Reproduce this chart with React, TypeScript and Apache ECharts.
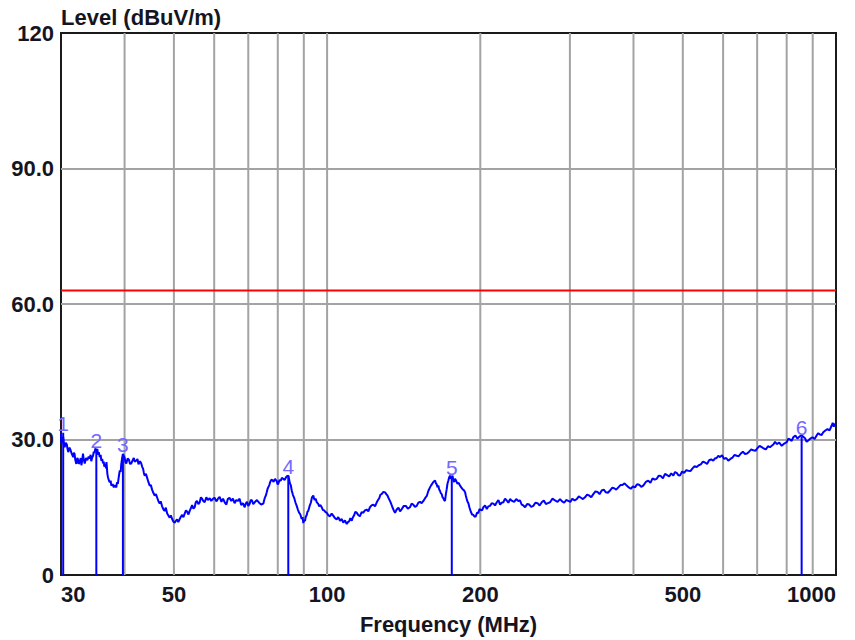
import React, { useEffect, useRef } from "react";
import * as echarts from "echarts";

// ---- data : [frequency MHz, level dBuV/m] ----
const trace: [number, number][] = [
  [30.0, 31.5], [30.05, 29.0], [30.1, 29.4], [30.2, 30.2], [30.3, 30.6], [30.4, 29.1], [30.5, 28.3], [30.65, 29.3],
  [30.8, 28.9], [30.9, 27.9], [31.0, 27.2], [31.15, 28.2], [31.3, 27.8], [31.5, 26.8], [31.7, 26.1], [31.8, 27.1],
  [31.9, 26.8], [32.0, 25.5], [32.15, 24.6], [32.3, 25.9], [32.4, 25.6], [32.5, 24.6], [32.65, 25.0], [32.8, 25.9],
  [32.9, 24.3], [33.0, 25.2], [33.14, 26.9], [33.25, 25.6], [33.4, 24.7], [33.6, 25.9], [33.8, 25.4], [34.0, 26.2],
  [34.16, 25.8], [34.3, 26.6], [34.4, 25.2], [34.55, 26.0], [34.68, 26.4], [34.8, 27.3], [34.9, 27.0], [35.05, 28.0],
  [35.2, 27.6], [35.35, 27.9], [35.5, 26.6], [35.6, 27.2], [35.75, 26.1], [35.9, 26.6], [36.0, 25.3], [36.15, 25.7],
  [36.28, 24.7], [36.4, 25.1], [36.5, 24.0], [36.65, 24.6], [36.78, 23.6], [36.85, 25.0], [36.9, 24.2], [37.0, 22.4],
  [37.11, 21.6], [37.25, 21.0], [37.4, 20.5], [37.55, 20.9], [37.67, 19.8], [37.9, 20.1], [38.1, 19.4], [38.3, 19.9],
  [38.53, 19.4], [38.65, 20.5], [38.8, 20.2], [38.95, 21.6], [39.13, 23.1], [39.3, 22.8], [39.4, 24.5], [39.55, 25.8],
  [39.71, 26.8], [39.85, 26.4], [40.0, 26.0], [40.15, 25.0], [40.31, 24.7], [40.55, 25.8], [40.8, 25.5], [41.0, 24.6],
  [41.23, 24.7], [41.45, 25.3], [41.7, 25.9], [41.9, 25.1], [42.18, 25.3], [42.4, 25.7], [42.6, 24.5], [42.9, 25.2],
  [43.14, 24.7], [43.3, 24.0], [43.5, 23.5], [43.65, 22.6], [43.81, 22.0], [44.05, 22.4], [44.3, 21.5], [44.55, 20.6],
  [44.81, 19.8], [45.05, 19.9], [45.3, 18.9], [45.55, 18.2], [45.84, 17.6], [46.1, 17.9], [46.4, 17.0], [46.6, 16.4],
  [46.89, 15.8], [47.1, 16.3], [47.4, 15.2], [47.7, 14.5], [47.96, 14.2], [48.2, 14.9], [48.5, 13.6], [48.8, 13.1],
  [49.06, 12.7], [49.3, 13.2], [49.6, 12.4], [49.9, 11.8], [50.18, 11.6], [50.45, 12.0], [50.7, 12.3], [51.0, 11.7],
  [51.33, 12.4], [51.6, 12.9], [51.9, 13.3], [52.2, 12.8], [52.5, 13.6], [52.8, 14.3], [53.1, 14.0], [53.4, 13.4],
  [53.71, 14.2], [54.0, 14.8], [54.3, 15.5], [54.6, 14.7], [54.93, 15.0], [55.2, 16.1], [55.5, 16.4], [55.85, 15.7],
  [56.19, 16.1], [56.5, 17.2], [56.8, 16.9], [57.1, 16.4], [57.47, 16.1], [57.9, 17.2], [58.3, 16.6], [58.8, 17.0],
  [59.22, 16.4], [59.7, 16.9], [60.1, 17.1], [60.6, 16.3], [61.04, 16.9], [61.5, 17.3], [62.0, 16.2], [62.45, 16.9],
  [62.92, 16.1], [63.4, 15.6], [63.8, 16.8], [64.3, 17.1], [64.83, 16.4], [65.3, 16.9], [65.8, 15.9], [66.3, 16.6],
  [66.83, 16.4], [67.3, 16.9], [67.8, 15.5], [68.3, 15.9], [68.88, 15.0], [69.2, 15.8], [69.6, 16.2], [70.0, 15.3],
  [70.46, 15.8], [70.8, 16.6], [71.2, 16.5], [71.6, 15.7], [72.07, 16.1], [72.8, 16.6], [73.5, 16.0], [74.2, 15.6],
  [74.93, 15.8], [75.2, 16.5], [75.5, 17.2], [75.8, 17.6], [76.1, 18.3], [76.4, 19.1], [76.7, 19.5], [77.0, 19.9],
  [77.24, 20.5], [77.7, 21.1], [78.1, 21.0], [78.5, 20.6], [79.01, 21.3], [79.3, 21.0], [79.6, 20.8], [79.9, 20.1],
  [80.2, 20.2], [80.6, 21.0], [81.1, 20.9], [81.5, 21.5], [82.03, 21.3], [82.5, 21.0], [83.0, 21.6], [83.4, 21.9],
  [83.91, 22.0], [84.2, 21.2], [84.5, 20.3], [84.85, 19.9], [85.21, 18.7], [85.7, 17.7], [86.2, 17.0], [86.7, 16.0],
  [87.16, 15.3], [87.6, 14.5], [88.1, 13.8], [88.6, 13.4], [89.15, 12.4], [89.5, 12.8], [89.8, 11.5], [90.1, 12.1],
  [90.49, 12.0], [90.8, 12.9], [91.2, 13.3], [91.5, 14.0], [91.85, 14.2], [92.4, 15.3], [92.9, 16.0], [93.4, 17.2],
  [93.95, 17.6], [94.3, 16.9], [94.6, 16.6], [95.0, 16.9], [95.41, 16.1], [96.0, 15.8], [96.5, 15.2], [97.0, 15.5],
  [97.6, 15.0], [98.1, 14.4], [98.7, 14.3], [99.3, 13.9], [99.83, 13.8], [100.6, 13.2], [101.3, 13.0], [102.1, 13.6],
  [102.9, 13.1], [103.6, 12.6], [104.4, 12.3], [105.2, 12.8], [106.0, 12.0], [106.8, 12.4], [107.6, 11.6], [108.4, 12.1],
  [109.3, 11.3], [109.9, 11.7], [110.5, 11.9], [111.1, 12.6], [111.8, 12.0], [112.4, 12.8], [113.0, 13.2], [113.6, 14.0],
  [114.3, 13.8], [115.1, 13.3], [116.0, 13.0], [116.9, 13.9], [117.8, 13.8], [118.7, 14.3], [119.6, 14.5], [120.5, 14.1],
  [121.4, 15.0], [122.3, 15.4], [123.3, 15.6], [124.2, 15.2], [125.2, 16.1], [125.9, 16.6], [126.6, 17.0], [127.3, 17.8],
  [128.0, 17.9], [129.0, 18.4], [130.0, 18.3], [130.7, 17.9], [131.4, 17.6], [132.1, 17.0], [132.9, 16.4], [133.6, 15.8],
  [134.4, 15.0], [135.2, 14.3], [136.0, 13.8], [137.0, 14.5], [138.1, 14.9], [139.1, 14.1], [140.2, 14.6], [141.5, 15.3],
  [142.8, 15.3], [144.1, 14.7], [145.5, 15.0], [146.6, 15.8], [147.7, 15.6], [148.8, 15.1], [150.0, 15.3], [151.1, 16.0],
  [152.3, 16.2], [153.4, 15.9], [154.6, 16.4], [155.8, 17.0], [157.0, 17.5], [158.1, 18.6], [159.3, 19.4], [160.2, 19.9],
  [161.1, 20.3], [162.0, 20.7], [163.0, 20.9], [163.6, 20.3], [164.2, 20.1], [164.8, 19.4], [165.4, 19.8], [166.0, 19.0],
  [166.7, 18.6], [167.3, 18.1], [168.0, 17.9], [168.6, 17.2], [169.2, 17.0], [169.8, 16.6], [170.5, 16.4], [171.1, 17.8],
  [171.8, 19.0], [172.4, 20.2], [173.1, 20.9], [173.7, 21.6], [174.4, 22.0], [175.1, 21.3], [175.8, 21.6], [176.4, 22.0],
  [177.0, 21.0], [177.7, 20.6], [178.4, 21.3], [179.4, 20.8], [180.4, 20.2], [181.4, 20.4], [182.5, 19.8], [183.5, 19.4],
  [184.6, 19.0], [185.6, 18.8], [186.7, 18.3], [187.4, 17.5], [188.1, 16.8], [188.8, 16.2], [189.5, 15.9], [190.5, 14.9],
  [191.6, 14.0], [192.7, 13.4], [193.8, 13.3], [194.9, 12.9], [196.0, 13.0], [197.1, 13.8], [198.2, 13.7], [199.3, 14.6],
  [200.5, 14.4], [201.6, 14.3], [202.8, 15.0], [204.4, 15.4], [206.0, 14.6], [207.5, 15.2], [209.0, 15.3], [210.6, 15.9],
  [212.2, 15.8], [213.8, 15.4], [215.5, 16.1], [217.1, 16.6], [218.7, 15.6], [220.3, 16.0], [222.0, 16.1], [223.7, 16.9],
  [225.4, 16.5], [227.1, 16.0], [228.8, 16.8], [231.0, 16.4], [233.1, 16.2], [235.3, 16.8], [237.5, 16.4], [239.3, 16.5],
  [241.2, 15.6], [243.0, 15.4], [244.9, 15.0], [247.2, 15.7], [249.5, 15.6], [251.8, 15.1], [254.2, 15.3], [256.6, 16.0],
  [259.1, 15.9], [261.6, 15.4], [264.1, 16.1], [266.6, 16.5], [269.1, 15.7], [271.6, 15.9], [274.2, 16.1], [277.3, 16.9],
  [280.5, 16.5], [283.7, 16.2], [286.9, 16.8], [289.6, 16.3], [292.3, 16.0], [295.0, 16.6], [297.8, 16.4], [300.6, 16.2],
  [303.5, 16.9], [306.4, 16.5], [309.4, 16.8], [312.3, 17.4], [315.3, 17.1], [318.2, 16.8], [321.2, 17.2], [324.2, 17.8],
  [327.3, 17.6], [330.4, 17.2], [333.5, 17.9], [336.7, 18.5], [339.9, 18.4], [343.1, 17.9], [346.4, 18.7], [349.7, 18.9],
  [353.0, 18.3], [356.3, 18.2], [359.7, 18.7], [363.1, 19.3], [366.5, 19.2], [370.0, 18.9], [373.5, 19.4], [377.0, 19.9],
  [380.6, 19.9], [384.2, 20.3], [387.9, 19.8], [391.5, 19.4], [395.2, 19.1], [398.9, 19.6], [402.7, 19.4], [406.5, 20.1],
  [410.4, 20.0], [414.2, 19.5], [418.1, 19.8], [422.9, 20.6], [427.7, 20.9], [431.9, 20.4], [436.0, 21.4], [440.1, 21.1],
  [444.3, 21.3], [448.5, 22.0], [452.7, 21.9], [457.0, 21.4], [461.3, 22.4], [465.7, 22.1], [470.1, 21.8], [474.5, 22.5],
  [479.0, 22.0], [482.6, 22.8], [486.3, 22.6], [490.0, 22.1], [493.7, 22.0], [498.4, 22.9], [503.1, 22.6], [507.8, 23.2],
  [512.6, 23.1], [517.5, 23.0], [522.5, 23.6], [527.5, 24.1], [532.5, 23.9], [537.5, 24.3], [542.5, 24.5], [547.6, 25.1],
  [552.8, 24.9], [558.0, 24.6], [563.3, 25.4], [568.6, 25.6], [573.9, 25.3], [578.3, 25.8], [582.7, 25.9], [587.1, 26.4],
  [591.6, 26.1], [597.2, 26.5], [602.8, 25.7], [608.5, 25.9], [614.2, 25.3], [620.1, 25.7], [626.0, 26.0], [632.0, 26.6],
  [638.0, 26.4], [644.0, 26.3], [650.1, 26.9], [656.2, 27.3], [662.4, 26.8], [668.7, 26.9], [675.0, 27.3], [681.4, 27.8],
  [687.8, 27.6], [694.4, 27.5], [701.0, 28.1], [707.7, 28.6], [714.5, 28.3], [721.3, 28.0], [728.1, 27.8], [735.0, 28.5],
  [741.8, 28.3], [747.5, 28.6], [753.2, 28.9], [759.0, 29.5], [764.7, 29.0], [773.5, 29.3], [782.3, 28.6], [791.2, 29.1],
  [800.1, 29.4], [806.1, 30.2], [812.1, 30.0], [818.2, 29.7], [824.3, 30.5], [832.2, 30.9], [840.1, 30.2], [848.1, 30.7],
  [856.2, 30.9], [862.6, 30.6], [869.0, 30.3], [875.5, 29.5], [882.1, 29.8], [890.5, 30.2], [899.0, 30.5], [907.6, 30.1],
  [916.2, 30.9], [923.1, 31.4], [930.0, 31.1], [937.0, 31.0], [944.0, 31.6], [953.0, 32.0], [962.1, 32.3], [971.3, 32.0],
  [980.6, 33.1], [985.3, 33.7], [990.0, 32.8], [994.0, 33.6],
];

const markerLabels = ["1", "2", "3", "4", "5", "6"];
const markerFreqMHz = [30.3, 35.2, 39.7, 83.9, 175.8, 856.0];
const markerLevelDb = [31.5, 27.6, 26.8, 22.0, 21.6, 30.6];

const limitLevelDb = 63;
const limitFreqMHz = [30, 1000];

const gridFreqMHz = [40, 50, 60, 70, 80, 90, 100, 200, 300, 400, 500, 600, 700, 800, 900];
const xTickLabelsMHz = [30, 50, 100, 200, 500, 1000];
const yMin = 0;
const yMax = 120;
const yStep = 30;

// ---- chart ----
const L = (f: number) => Math.log10(f);
const FONT = '"Liberation Sans", Arial, Helvetica, sans-serif';
const TEXT_COLOR = "#15151f";
const GRID_COLOR = "#a3a3a3";

export default function App() {
  const ref = useRef<HTMLDivElement>(null);

  useEffect(() => {
    if (!ref.current) return;
    const chart = echarts.init(ref.current, undefined, { renderer: "svg" });

    const option: any = {
      animation: false,
      grid: {
        left: 61,
        top: 33,
        right: 19,
        bottom: 65,
        show: true,
        borderColor: "#1a1a1a",
        borderWidth: 2,
        backgroundColor: "#ffffff",
      },
      xAxis: {
        type: "value",
        min: L(30),
        max: L(1000),
        axisLine: { show: false },
        axisTick: { show: false },
        splitLine: { show: false },
        axisLabel: {
          customValues: xTickLabelsMHz.map(L),
          formatter: (v: number) => String(Math.round(Math.pow(10, v))),
          fontFamily: FONT,
          fontSize: 22,
          fontWeight: "bold",
          color: TEXT_COLOR,
          margin: 8,
          alignMinLabel: "left",
          alignMaxLabel: "right",
          showMinLabel: true,
          showMaxLabel: true,
          hideOverlap: false,
        },
        name: "Frequency (MHz)",
        nameLocation: "middle",
        nameGap: 38,
        nameTextStyle: {
          fontFamily: FONT,
          fontSize: 22,
          fontWeight: "bold",
          color: TEXT_COLOR,
        },
      },
      yAxis: {
        type: "value",
        min: yMin,
        max: yMax,
        interval: yStep,
        axisLine: { show: false },
        axisTick: { show: false },
        splitLine: {
          show: true,
          showMinLine: false,
          showMaxLine: false,
          lineStyle: { color: GRID_COLOR, width: 2 },
        },
        axisLabel: {
          formatter: (v: number) => (v === yMin || v === yMax ? String(v) : v.toFixed(1)),
          fontFamily: FONT,
          fontSize: 22,
          fontWeight: "bold",
          color: TEXT_COLOR,
          margin: 7,
        },
        name: "Level (dBuV/m)",
        nameLocation: "end",
        nameGap: 5,
        nameTextStyle: {
          fontFamily: FONT,
          fontSize: 22,
          fontWeight: "bold",
          color: TEXT_COLOR,
          align: "left",
          verticalAlign: "bottom",
        },
      },
      series: [
        {
          type: "custom",
          name: "grid",
          silent: true,
          z: 1,
          data: gridFreqMHz.map((f) => [L(f), 0]),
          encode: { x: 0, y: 1 },
          renderItem: (_params: any, api: any) => {
            const x = api.value(0);
            const p0 = api.coord([x, yMin]);
            const p1 = api.coord([x, yMax]);
            return {
              type: "line",
              shape: { x1: p0[0], y1: p0[1], x2: p1[0], y2: p1[1] },
              style: { stroke: GRID_COLOR, lineWidth: 2 },
            };
          },
        },
        {
          type: "line",
          name: "limit",
          z: 3,
          silent: true,
          symbol: "none",
          data: limitFreqMHz.map((f) => [L(f), limitLevelDb]),
          lineStyle: { color: "#ff0000", width: 2 },
        },
        {
          type: "line",
          name: "trace",
          z: 4,
          silent: true,
          symbol: "none",
          data: trace.map(([f, v]) => [L(f), v]),
          lineStyle: { color: "#0000ff", width: 2 },
        },
        {
          type: "custom",
          name: "markers",
          silent: true,
          z: 5,
          data: markerFreqMHz.map((f, i) => [L(f), markerLevelDb[i]]),
          encode: { x: 0, y: 1 },
          renderItem: (params: any, api: any) => {
            const x = api.value(0);
            const lvl = api.value(1);
            const p0 = api.coord([x, yMin]);
            const p1 = api.coord([x, lvl]);
            return {
              type: "group",
              children: [
                {
                  type: "line",
                  shape: { x1: p0[0], y1: p0[1], x2: p1[0], y2: p1[1] },
                  style: { stroke: "#0000ff", lineWidth: 2 },
                },
                {
                  type: "text",
                  x: p1[0],
                  y: p1[1] + 1,
                  style: {
                    text: markerLabels[params.dataIndex],
                    fill: "#7468ff",
                    fontFamily: FONT,
                    fontSize: 21,
                    align: "center",
                    verticalAlign: "bottom",
                  },
                },
              ],
            };
          },
        },
      ],
    };

    chart.setOption(option);
    return () => chart.dispose();
  }, []);

  return (
    <div
      ref={ref}
      style={{ position: "absolute", left: 0, top: 0, width: 855, height: 640, background: "#ffffff" }}
    />
  );
}
